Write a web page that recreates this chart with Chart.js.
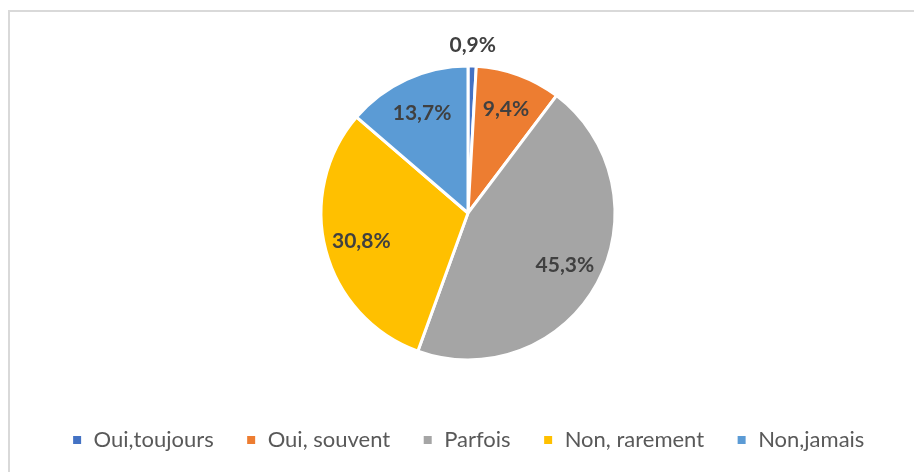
<!DOCTYPE html>
<html>
<head>
<meta charset="utf-8">
<script src="https://cdn.jsdelivr.net/npm/chart.js@4"></script>
<style>
  html, body { margin: 0; padding: 0; background: #fff; }
  #wrap { position: relative; width: 914px; height: 472px; }
  #frame { position: absolute; left: 8px; top: 10px; right: -10px; bottom: -10px;
           border-left: 2px solid #d9d9d9; border-top: 2px solid #d9d9d9; }
  canvas { position: absolute; left: 0; top: 0; }
</style>
</head>
<body>
<div id="wrap">
  <div id="frame"></div>
  <canvas id="pieChart" width="914" height="472"></canvas>
</div>
<script>
// data
var categories = ['Oui,toujours', 'Oui, souvent', 'Parfois', 'Non, rarement', 'Non,jamais'];
var values = [0.9, 9.4, 45.3, 30.8, 13.7];
var colors = ['#4472C4', '#ED7D31', '#A5A5A5', '#FFC000', '#5B9BD5'];

function fmt(v) {
    return v.toFixed(1).replace('.', ',') + '%';
}

// draws the percentages on (or just outside) the slices
const sliceLabels = {
    id: 'sliceLabels',
    afterDatasetsDraw(chart) {
        const ctx = chart.ctx;
        const meta = chart.getDatasetMeta(0);
        ctx.save();
        ctx.font = 'bold 21px Lato';
        ctx.fillStyle = '#404040';
        ctx.textAlign = 'center';
        ctx.textBaseline = 'middle';
        meta.data.forEach(function(arc, i) {
            const p = arc.getProps(['x', 'y', 'startAngle', 'endAngle', 'outerRadius'], true);
            const mid = (p.startAngle + p.endAngle) / 2;
            const r = values[i] < 2 ? p.outerRadius + 21 : p.outerRadius * 0.75;
            ctx.fillText(fmt(values[i]), p.x + Math.cos(mid) * r, p.y + Math.sin(mid) * r);
        });
        ctx.restore();
    }
};

const data = {
    labels: categories,
    datasets: [{
        data: values,
        backgroundColor: colors,
        borderColor: '#ffffff',
        borderWidth: 3,
        radius: 147
    }]
};

const config = {
    type: 'pie',
    data: data,
    options: {
        responsive: false,
        animation: false,
        layout: { padding: { top: 29, left: 22, right: 0, bottom: 11 } },
        plugins: {
            tooltip: { enabled: false },
            legend: {
                position: 'bottom',
                labels: {
                    boxWidth: 11,
                    boxHeight: 11,
                    padding: 32,
                    color: '#595959',
                    font: { family: 'Lato', size: 22 }
                }
            }
        }
    },
    plugins: [sliceLabels]
};

var myChart = new Chart(document.getElementById('pieChart'), config);
</script>
</body>
</html>
